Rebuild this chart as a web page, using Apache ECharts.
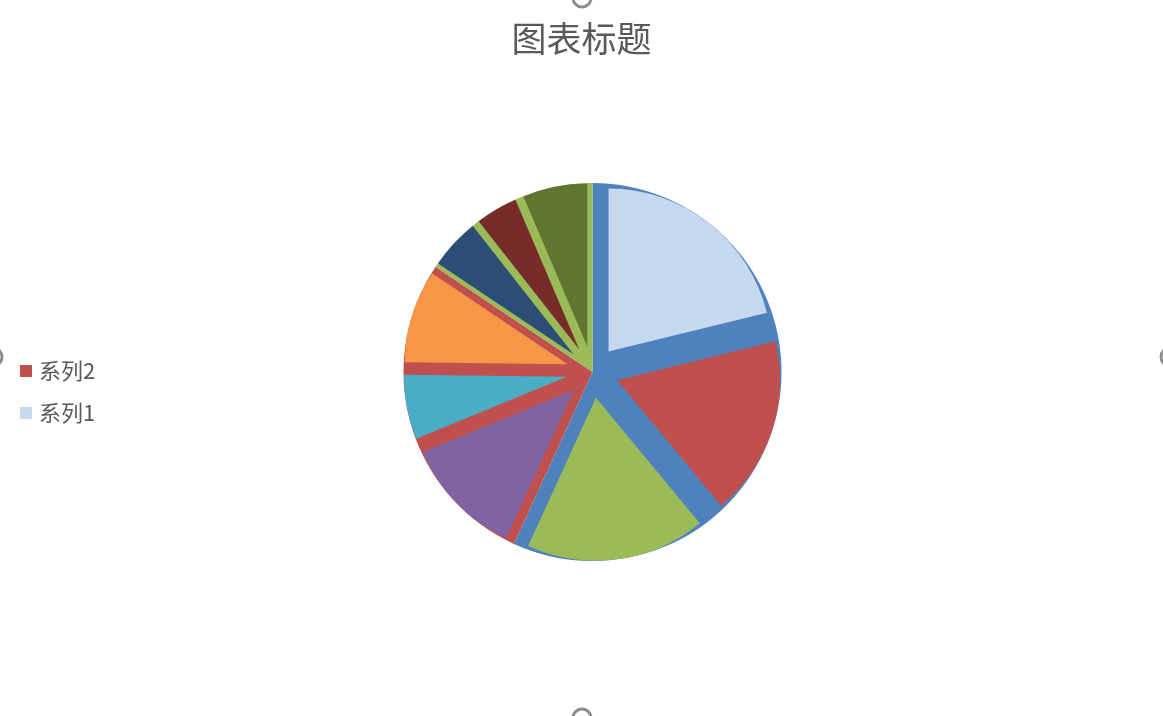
<!DOCTYPE html>
<html>
<head>
<meta charset="utf-8">
<script src="https://cdn.jsdelivr.net/npm/echarts@6/dist/echarts.min.js"></script>
<style>
html,body{margin:0;padding:0;background:#fff;}
#chart{width:1163px;height:716px;}
</style>
</head>
<body>
<div id="chart"></div>
<script>
const titleText = '图表标题';
const legendLabels = ['系列2', '系列1'];
const series1Categories = ['1', '2', '3', '4', '5', '6', '7', '8', '9'];
const series1Values = [76, 64, 64, 43, 23, 33, 18, 15, 23];
const series2Categories = ['1', '2', '3'];
const series2Values = [204, 99, 56];

const series1Colors = ['#C6D9F1', '#C0504D', '#9BBB59', '#8064A2', '#4BACC6', '#F79646', '#2C4D75', '#772C2A', '#5F7530'];
const series2Colors = ['#4F81BD', '#C0504D', '#9BBB59'];
const legendColors = ['#C0504D', '#C6D9F1'];

const chart = echarts.init(document.getElementById('chart'));
const font = '"Noto Sans CJK SC", "Microsoft YaHei", sans-serif';

chart.setOption({
  animation: false,
  backgroundColor: '#ffffff',
  title: {
    text: titleText,
    left: 'center',
    top: 16,
    textStyle: { fontFamily: font, fontSize: 35, fontWeight: 'normal', color: '#595959' }
  },
  legend: {
    orient: 'vertical',
    left: 15,
    top: 355,
    itemWidth: 12,
    itemHeight: 12,
    itemGap: 20,
    icon: 'rect',
    selectedMode: false,
    textStyle: { fontFamily: font, fontSize: 22, color: '#595959', padding: [0, 0, 0, 2] },
    data: legendLabels.map((n, i) => ({ name: n, itemStyle: { color: legendColors[i] } }))
  },
  graphic: [
    { type: 'circle', shape: { cx: 582, cy: -2, r: 9 }, style: { fill: 'none', stroke: '#8c8c8c', lineWidth: 3 } },
    { type: 'circle', shape: { cx: 582, cy: 718, r: 9 }, style: { fill: 'none', stroke: '#8c8c8c', lineWidth: 3 } },
    { type: 'circle', shape: { cx: -7, cy: 357, r: 9 }, style: { fill: 'none', stroke: '#8c8c8c', lineWidth: 3 } },
    { type: 'circle', shape: { cx: 1170, cy: 357, r: 9 }, style: { fill: 'none', stroke: '#8c8c8c', lineWidth: 3 } }
  ],
  series: [
    {
      name: legendLabels[0],
      type: 'pie',
      center: [592.5, 372],
      radius: [0, 189],
      startAngle: 90,
      clockwise: true,
      selectedMode: false,
      label: { show: false },
      labelLine: { show: false },
      emphasis: { disabled: true },
      itemStyle: { borderWidth: 0 },
      z: 1,
      data: series2Values.map((v, i) => ({ name: series2Categories[i], value: v, itemStyle: { color: series2Colors[i] } }))
    },
    {
      name: legendLabels[1],
      type: 'pie',
      center: [592.5, 372],
      radius: [0, 163],
      startAngle: 90,
      clockwise: true,
      selectedMode: 'multiple',
      selectedOffset: 26,
      label: { show: false },
      labelLine: { show: false },
      emphasis: { disabled: true },
      select: { itemStyle: { borderWidth: 0 } },
      itemStyle: { borderWidth: 0 },
      z: 2,
      data: series1Values.map((v, i) => ({
        name: series1Categories[i],
        value: v,
        selected: true,
        itemStyle: { color: series1Colors[i] },
        select: { itemStyle: { color: series1Colors[i], borderWidth: 0 } }
      }))
    }
  ]
});
</script>
</body>
</html>
